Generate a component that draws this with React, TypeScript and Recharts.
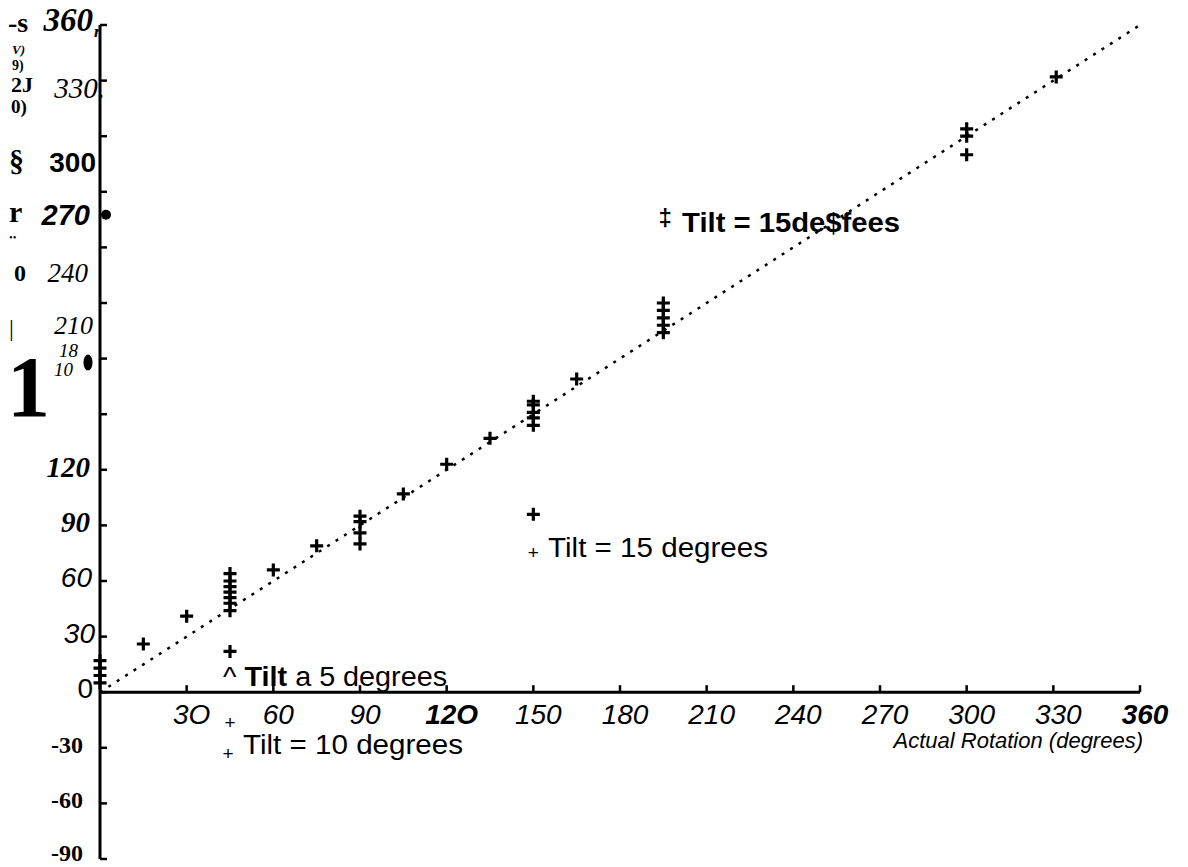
import React from 'react';
import { ReferenceLine, Scatter, ScatterChart, XAxis, YAxis } from 'recharts';

const measuredX = [0, 0, 0, 0, 15, 30, 45, 45, 45, 45, 45, 45, 45, 45, 60, 75, 90, 90, 90, 90, 105, 120, 135, 150, 150, 150, 150, 150, 150, 165, 195, 195, 195, 195, 195, 300, 300, 300, 331];
const measuredY = [17, 13, 9, 5, 26, 41, 64, 60, 57, 54, 51, 48, 44, 22, 66, 79, 95, 92, 86, 80, 107, 123, 137, 157, 155, 151, 148, 144, 96, 169, 210, 206, 202, 198, 194, 304, 300, 290, 332];

const diagX = [0, 360];
const diagY = [0, 360];

const yTicks = [-90, -60, -30, 0, 30, 60, 90, 120, 150, 180, 210, 240, 270, 300, 330, 360];
const yTickLabels = ['-90', '-60', '-30', '0', '30', '60', '90', '120', '', '18', '210', '240', '270', '300', '330.', '360'];

const xTicks = [30, 60, 90, 120, 150, 180, 210, 240, 270, 300, 330, 360];
const xTickLabels = ['3O', '60', '90', '12O', '150', '180', '210', '240', '270', '300', '330', '360'];
const xTitle = 'Actual Rotation (degrees)';

const legendTexts = ['Tilt = 15de$fees', 'Tilt = 15 degrees', '^ Tilt a 5 degrees', 'Tilt = 10 degrees'];
const legendTextX = [201.5, 155.1, 42.6, 49.5];
const legendTextY = [253.1, 77.7, 8.1, -28.6];

const legendGlyphs = ['‡', '+', '+', '+'];
const legendGlyphX = [195.6, 150, 45, 44.3];
const legendGlyphY = [256.3, 75.6, -16.2, -32.9];

const serif = '"Liberation Serif", "Times New Roman", serif';
const sans = '"Liberation Sans", Arial, sans-serif';

type Look = { f: string; s: number; b?: boolean; i?: boolean };

const yLook: Record<number, Look & { dx: number; dy: number }> = {
  360: { f: serif, s: 33, b: true, i: true, dx: 7, dy: -5 },
  330: { f: serif, s: 29, i: true, dx: -5, dy: 7 },
  300: { f: sans, s: 28, b: true, dx: 4, dy: 26 },
  270: { f: sans, s: 29, b: true, i: true, dx: 10, dy: 23 },
  240: { f: serif, s: 27, i: true, dx: 12, dy: 26 },
  210: { f: serif, s: 26, i: true, dx: 7, dy: 22 },
  180: { f: serif, s: 19, i: true, dx: 22, dy: -8 },
  120: { f: serif, s: 29, b: true, i: true, dx: 10, dy: -3 },
  90: { f: serif, s: 29, b: true, i: true, dx: 10, dy: -3 },
  60: { f: sans, s: 28, i: true, dx: 8, dy: -4 },
  30: { f: sans, s: 28, i: true, dx: 5, dy: -3 },
  0: { f: sans, s: 28, dx: 7, dy: -4 },
  '-30': { f: serif, s: 24, b: true, dx: 17, dy: -3 },
  '-60': { f: serif, s: 24, b: true, dx: 17, dy: -3 },
  '-90': { f: serif, s: 24, b: true, dx: 17, dy: -6 },
};

// scraps of the garbled vertical axis title, hung on the nearest tick
const yExtras: Record<number, (Look & { t: string; px: number; dy: number })[]> = {
  360: [
    { t: '-s', f: serif, s: 28, b: true, px: 8, dy: -3 },
    { t: 'r', f: serif, s: 17, b: true, i: true, px: 94, dy: 6 },
  ],
  330: [
    { t: 'V)', f: serif, s: 13, b: true, i: true, px: 12, dy: -31 },
    { t: '9)', f: serif, s: 14, b: true, px: 12, dy: -15 },
    { t: '2J', f: serif, s: 22, b: true, px: 11, dy: 4 },
    { t: '0)', f: serif, s: 19, b: true, px: 11, dy: 26 },
  ],
  300: [{ t: '§', f: serif, s: 30, b: true, px: 9, dy: 24 }],
  270: [
    { t: 'r', f: serif, s: 30, b: true, px: 9, dy: 20 },
    { t: '‥', f: serif, s: 14, b: true, px: 9, dy: 42 },
  ],
  240: [{ t: '0', f: serif, s: 24, b: true, px: 14, dy: 26 }],
  210: [{ t: '|', f: serif, s: 24, px: 9, dy: 25 }],
  180: [
    { t: '1', f: serif, s: 86, b: true, px: 7, dy: 28 },
    { t: '10', f: serif, s: 19, i: true, px: 54, dy: 11 },
  ],
};

const txt = (l: Look) => ({
  fontFamily: l.f,
  fontSize: l.s,
  fontWeight: l.b ? 'bold' : 'normal',
  fontStyle: l.i ? 'italic' : 'normal',
  fill: '#000',
});

function YTick(props: any) {
  const { x, y, payload } = props;
  const v = payload.value as number;
  const label = yTickLabels[yTicks.indexOf(v)];
  const st = yLook[v];
  const extras = yExtras[v] || [];
  return (
    <g>
      <line x1={x} x2={x + 7} y1={y} y2={y} stroke="#000" strokeWidth={2.5} />
      {label && st && (
        <text x={x - st.dx} y={y + st.dy} textAnchor="end" dominantBaseline="central" {...txt(st)}>
          {label}
        </text>
      )}
      {extras.map((e, k) => (
        <text key={k} x={x + e.px - 100} y={y + e.dy} dominantBaseline="central" {...txt(e)}>
          {e.t}
        </text>
      ))}
      {v === 270 && <circle cx={x + 6} cy={y + 23} r={5} fill="#000" />}
      {v === 180 && <ellipse cx={x - 12} cy={y + 4} rx={4.5} ry={8} fill="#000" />}
    </g>
  );
}

function PlusMark(props: any) {
  const { cx, cy } = props;
  return (
    <path
      d={`M${cx - 6.5},${cy}H${cx + 6.5}M${cx},${cy - 6.5}V${cy + 6.5}`}
      stroke="#000"
      strokeWidth={3.2}
      fill="none"
    />
  );
}

function XTickMark(props: any) {
  const { cx, cy, payload } = props;
  const heavy = payload.label === '12O' || payload.label === '360';
  return (
    <g>
      <line x1={cx} x2={cx} y1={cy} y2={cy - 7} stroke="#000" strokeWidth={2.5} />
      <text
        x={cx + 5}
        y={cy + 22}
        textAnchor="middle"
        dominantBaseline="central"
        {...txt({ f: sans, s: 28, b: heavy, i: true })}
      >
        {payload.label}
      </text>
    </g>
  );
}

function XTitle(props: any) {
  const { cx, cy, payload } = props;
  return (
    <text
      x={cx + 3}
      y={cy + 48}
      textAnchor="end"
      dominantBaseline="central"
      {...txt({ f: sans, s: 22, i: true })}
    >
      {payload.label}
    </text>
  );
}

const legendWidths = [218, 220, 224, 220];

function LegendText(props: any) {
  const { cx, cy, payload } = props;
  const i = payload.i as number;
  const parts = (payload.label as string).split(/(Tilt)/);
  return (
    <text
      x={cx}
      y={cy}
      dominantBaseline="central"
      textLength={legendWidths[i]}
      lengthAdjust="spacingAndGlyphs"
      {...txt({ f: sans, s: 27, b: i === 0 })}
    >
      {parts.map((p, k) => (
        <tspan key={k} fontWeight={i === 0 || (i === 2 && p === 'Tilt') ? 'bold' : 'normal'}>
          {p}
        </tspan>
      ))}
    </text>
  );
}

function LegendGlyph(props: any) {
  const { cx, cy, payload } = props;
  const first = payload.i === 0;
  return (
    <text
      x={cx}
      y={cy}
      textAnchor="middle"
      dominantBaseline="central"
      {...txt({ f: sans, s: first ? 24 : 19, b: first })}
    >
      {payload.label}
    </text>
  );
}

export default function App() {
  const measured = measuredX.map((x, i) => ({ x, y: measuredY[i] }));
  const xTickData = xTicks.map((x, i) => ({ x, y: 0, label: xTickLabels[i] }));
  const titleData = [{ x: xTicks[xTicks.length - 1], y: 0, label: xTitle }];
  const legendData = legendTexts.map((label, i) => ({ x: legendTextX[i], y: legendTextY[i], label, i }));
  const glyphData = legendGlyphs.map((label, i) => ({ x: legendGlyphX[i], y: legendGlyphY[i], label, i }));
  const diagonal = diagX.map((x, i) => ({ x, y: diagY[i] }));

  return (
    <div style={{ position: 'absolute', top: 0, left: 0, width: 1188, height: 867, background: '#fff' }}>
      <ScatterChart width={1188} height={867} margin={{ top: 25, right: 48, bottom: 8, left: 8 }}>
        <XAxis dataKey="x" type="number" domain={[0, 360]} hide />
        <YAxis
          dataKey="y"
          type="number"
          domain={[-90, 360]}
          ticks={yTicks}
          interval={0}
          width={92}
          tickSize={0}
          tickMargin={0}
          tickLine={false}
          axisLine={{ stroke: '#000', strokeWidth: 3 }}
          tick={<YTick />}
        />
        <ReferenceLine y={0} stroke="#000" strokeWidth={3} />
        <ReferenceLine
          segment={diagonal}
          stroke="#000"
          strokeWidth={2.5}
          strokeDasharray="3 7"
        />
        <Scatter data={xTickData} shape={XTickMark} isAnimationActive={false} />
        <Scatter data={titleData} shape={XTitle} isAnimationActive={false} />
        <Scatter data={measured} shape={PlusMark} isAnimationActive={false} />
        <Scatter data={legendData} shape={LegendText} isAnimationActive={false} />
        <Scatter data={glyphData} shape={LegendGlyph} isAnimationActive={false} />
      </ScatterChart>
    </div>
  );
}
